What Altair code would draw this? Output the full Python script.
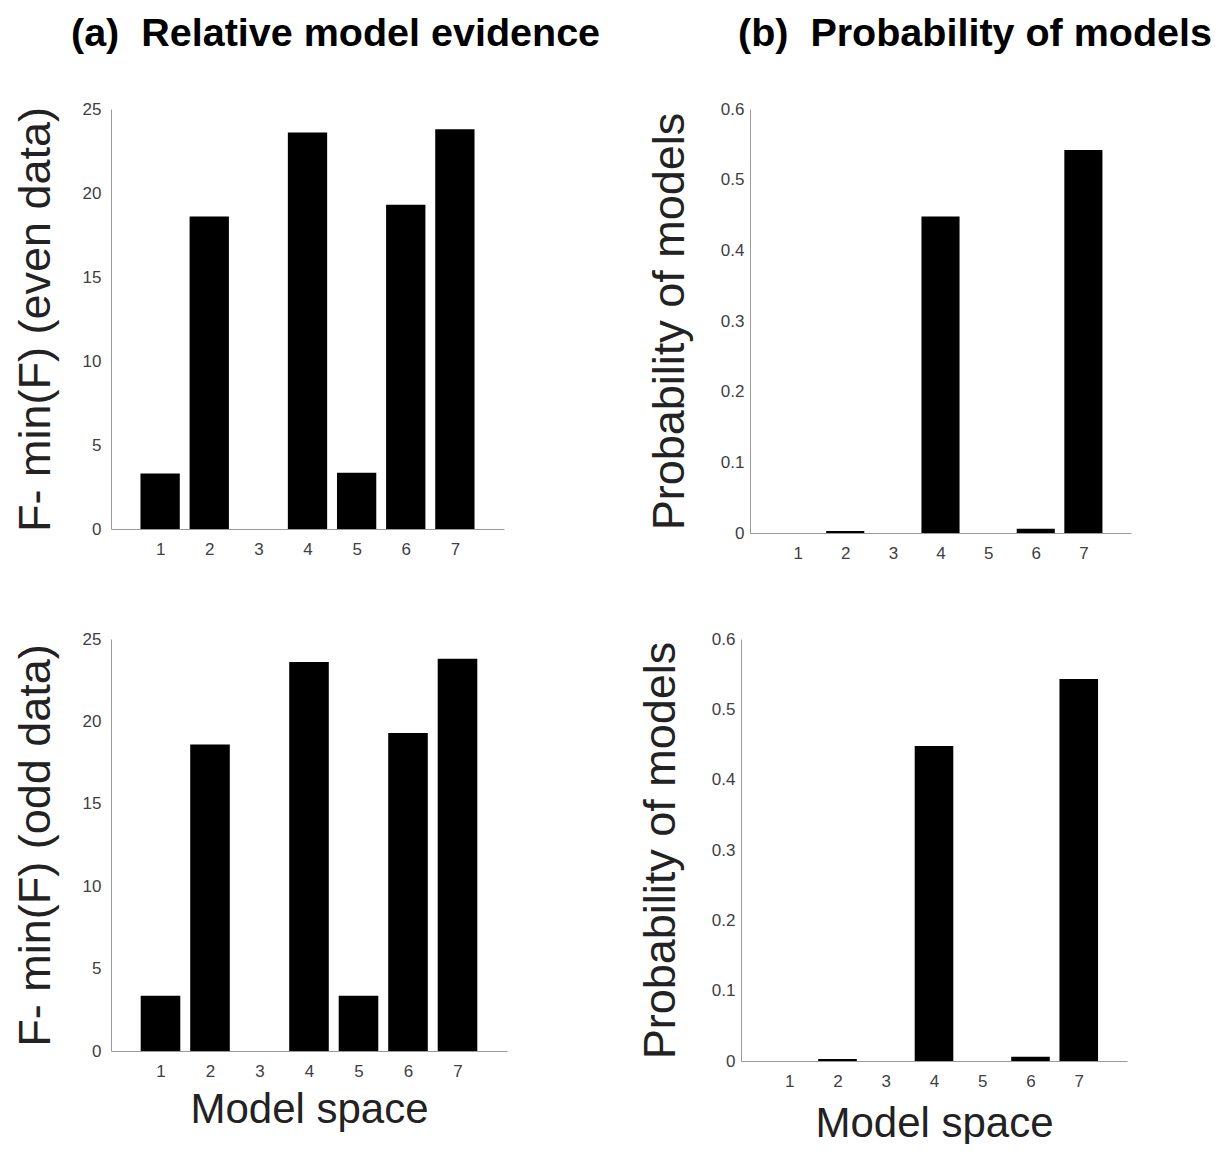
import altair as alt
import pandas as pd

# ---- data ----
models = [1, 2, 3, 4, 5, 6, 7]
f_even = [3.3, 18.6, 0.0, 23.6, 3.35, 19.3, 23.8]
f_odd = [3.35, 18.6, 0.0, 23.6, 3.35, 19.3, 23.8]
p_even = [0.0, 0.003, 0.0, 0.448, 0.0, 0.006, 0.542]
p_odd = [0.0, 0.003, 0.0, 0.448, 0.0, 0.006, 0.543]
f_ticks = [0, 5, 10, 15, 20, 25]
p_ticks = [0, 0.1, 0.2, 0.3, 0.4, 0.5, 0.6]
x_domain = [0, 8]
bar_half = 0.4

FONT = "Liberation Sans"
AXIS_GRAY = "#9a9a9a"
LABEL_GRAY = "#404040"
NBSP = "\u00a0"


def panel(values, ytitle, ydomain, yticks, yfmt, width, height,
          xtitle=None, x_title_pad=10, title=None, title_dx=0, title_offset=0,
          y_label_pad=10, y_title_pad=24):
    df = pd.DataFrame({"model": models, "value": values})
    x_axis = alt.Axis(values=models, grid=False, ticks=False, domainColor=AXIS_GRAY,
                      labelFontSize=17, labelColor=LABEL_GRAY, labelPadding=12,
                      labelFont=FONT, title=xtitle, titleFont=FONT, titleFontSize=42,
                      titleFontWeight="normal", titleColor="#222222",
                      titlePadding=x_title_pad)
    y_axis = alt.Axis(values=yticks, grid=False, ticks=False, domainColor=AXIS_GRAY,
                      labelFontSize=17, labelColor=LABEL_GRAY, labelPadding=y_label_pad,
                      labelFont=FONT, format=yfmt, title=ytitle, titleFont=FONT,
                      titleFontSize=45, titleFontWeight="normal", titleColor="#222222",
                      titlePadding=y_title_pad)
    props = dict(width=width, height=height)
    if title is not None:
        props["title"] = alt.TitleParams(text=title, font=FONT, fontSize=39.5,
                                         fontWeight="bold", color="#000000",
                                         anchor="start", frame="group", dx=title_dx,
                                         offset=title_offset)
    return (
        alt.Chart(df)
        .transform_calculate(x0=f"datum.model - {bar_half}",
                             x1=f"datum.model + {bar_half}",
                             base="0")
        .mark_bar(color="#000000")
        .encode(
            x=alt.X("x0:Q", scale=alt.Scale(domain=x_domain, nice=False, zero=False), axis=x_axis),
            x2="x1:Q",
            y=alt.Y("value:Q", scale=alt.Scale(domain=ydomain, nice=False), axis=y_axis),
            y2="base:Q",
        )
        .properties(**props)
    )


tl = panel(f_even, "F- min(F) (even data)", [0, 25], f_ticks, "d", 393, 420,
           title=f"(a){NBSP}{NBSP}Relative model evidence", title_dx=-40, title_offset=46)
tr = panel(p_even, "Probability of models", [0, 0.6], p_ticks, ".1~f", 381, 424,
           title=f"(b){NBSP}{NBSP}Probability of models", title_dx=-12, title_offset=46,
           y_label_pad=6, y_title_pad=28)
bl = panel(f_odd, "F- min(F) (odd data)", [0, 25], f_ticks, "d", 396, 412,
           xtitle="Model space", x_title_pad=10)
br = panel(p_odd, "Probability of models", [0, 0.6], p_ticks, ".1~f", 386, 422,
           xtitle="Model space", x_title_pad=14, y_label_pad=6, y_title_pad=28)

top = alt.hconcat(tl, tr, spacing=46)
bottom = alt.hconcat(bl, br, spacing=131)

chart = (
    alt.vconcat(top, bottom, spacing=69)
    .properties(padding={"left": 5, "top": 5, "right": 0, "bottom": 0})
    .configure_view(strokeWidth=0)
)

chart.save("out.html", embed_options={"renderer": "svg", "actions": False})
